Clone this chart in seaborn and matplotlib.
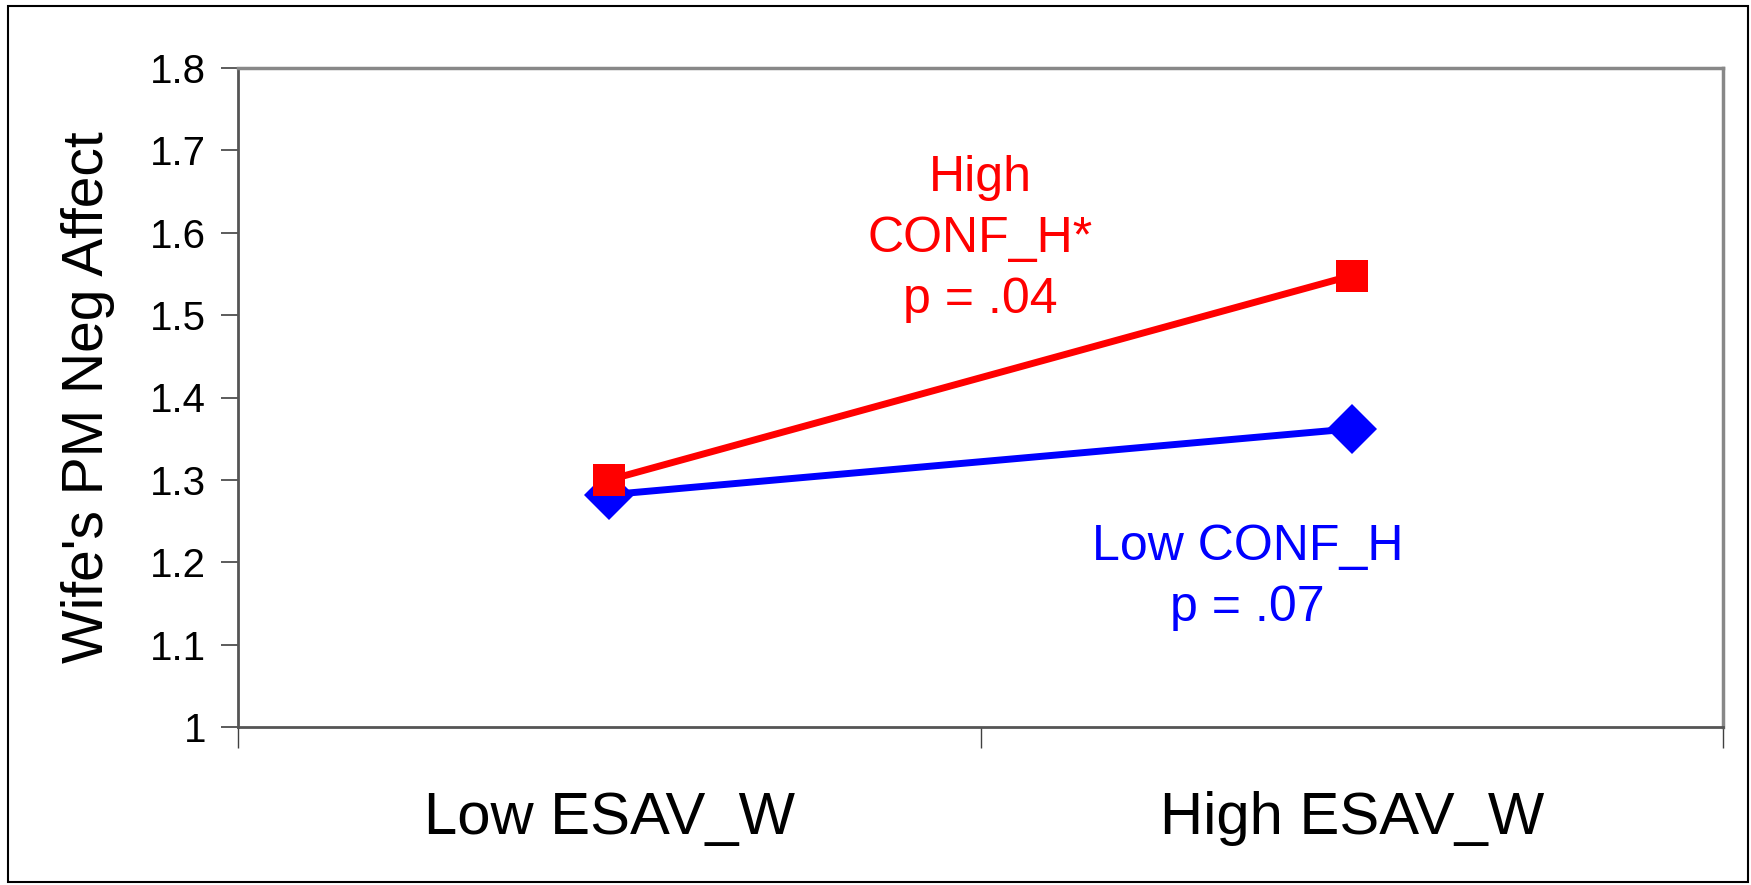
import matplotlib
matplotlib.use("Agg")
import matplotlib.pyplot as plt
import seaborn as sns
import pandas as pd
from matplotlib.patches import Rectangle

# Dados
categorias = ['Low ESAV_W', 'High ESAV_W']
low_conf = [1.282, 1.362]
high_conf = [1.300, 1.548]
yticks = [1, 1.1, 1.2, 1.3, 1.4, 1.5, 1.6, 1.7, 1.8]
ytick_labels = ['1', '1.1', '1.2', '1.3', '1.4', '1.5', '1.6', '1.7', '1.8']

sns.set_theme(style="white")
plt.rcParams['font.family'] = ['Liberation Sans', 'DejaVu Sans']
plt.rcParams['text.color'] = 'black'
plt.rcParams['axes.labelcolor'] = 'black'
plt.rcParams['xtick.color'] = 'black'
plt.rcParams['ytick.color'] = 'black'

fig = plt.figure(figsize=(17.51, 8.85), dpi=100)
ax = fig.add_axes([238 / 1751, 1 - 727 / 885, (1723 - 238) / 1751, (727 - 68) / 885])

df = pd.DataFrame({
    'x': [0.5, 1.5, 0.5, 1.5],
    'y': low_conf + high_conf,
    'grupo': ['low', 'low', 'high', 'high'],
})

# Linha azul primeiro, vermelha por cima
sns.lineplot(data=df[df.grupo == 'low'], x='x', y='y', ax=ax, color='#0000FF',
             linewidth=5, marker='D', markersize=25, markeredgewidth=0)
sns.lineplot(data=df[df.grupo == 'high'], x='x', y='y', ax=ax, color='#FF0000',
             linewidth=5, marker='s', markersize=23, markeredgewidth=0)

ax.set_xlim(0, 2)
ax.set_ylim(1, 1.8)
ax.set_yticks(yticks)
ax.set_yticklabels(ytick_labels, fontsize=29)
ax.set_xticks([0, 1, 2])
ax.set_xticklabels([])
ax.set_xticks([0.5, 1.5], minor=True)
ax.set_xticklabels(categorias, minor=True, fontsize=43)
ax.tick_params(axis='x', which='minor', bottom=False, length=0, pad=46)
ax.tick_params(axis='x', which='major', bottom=True, length=15, width=1,
               color='#404040', direction='out')
ax.tick_params(axis='y', left=True, length=12, width=1.2, color='#404040',
               direction='out', pad=11)
ax.set_xlabel('')
ax.set_ylabel("Wife's PM Neg Affect", fontsize=41, labelpad=25)

for lado in ['top', 'right']:
    ax.spines[lado].set_color('#888888')
    ax.spines[lado].set_linewidth(2.5)
for lado in ['left', 'bottom']:
    ax.spines[lado].set_color('#555555')
    ax.spines[lado].set_linewidth(2)

# Anotacoes
ax.text(1.0, 1.592, 'High\nCONF_H*\np = .04', color='#FF0000', fontsize=36,
        ha='center', va='center', linespacing=1.42)
ax.text(1.36, 1.182, 'Low CONF_H\np = .07', color='#0000FF', fontsize=36,
        ha='center', va='center', linespacing=1.42)

# Borda externa
fig.patches.append(Rectangle((8 / 1751, 3 / 885), 1740 / 1751, 876 / 885,
                             transform=fig.transFigure, fill=False,
                             edgecolor='black', linewidth=1.5))

fig.savefig('out.png', dpi=100)
